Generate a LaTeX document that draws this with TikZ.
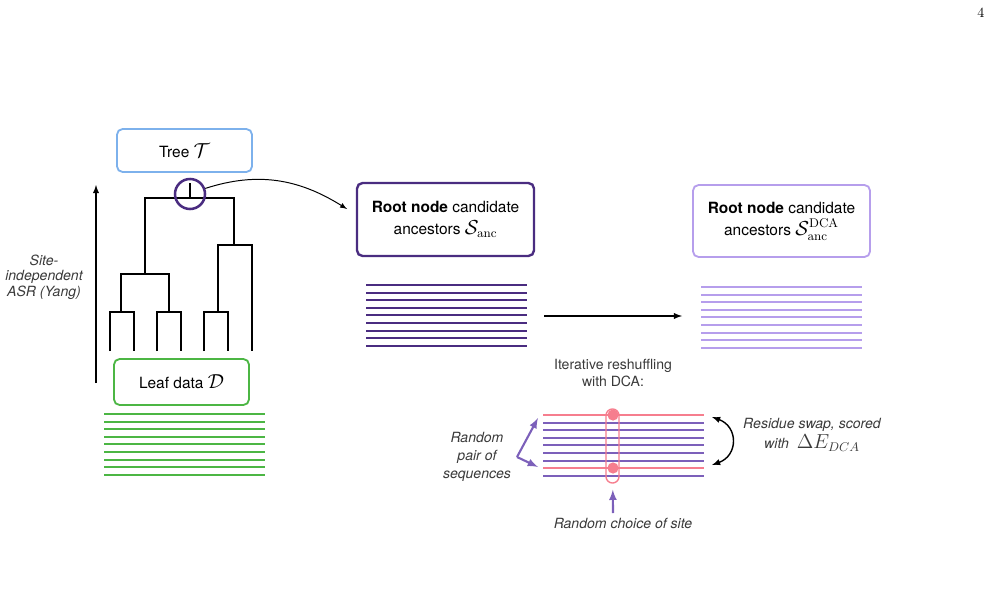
\documentclass[tikz,border=0pt]{standalone}
\usepackage{amsmath}
\usepackage[no-math]{fontspec}
\setmainfont{TeX Gyre Heros}
\usetikzlibrary{arrows,positioning,calc}
\definecolor{treeblue}{RGB}{125,177,236}
\definecolor{leafgreen}{RGB}{76,182,68}
\definecolor{darkpurple}{RGB}{74,44,128}
\definecolor{lightpurple}{RGB}{182,158,236}
\definecolor{midpurple}{RGB}{124,96,186}
\definecolor{swappink}{RGB}{246,126,142}
\definecolor{txtgray}{RGB}{58,58,58}
\newcommand{\mathbig}[1]{{\fontsize{13.5}{15.5}\selectfont$#1$}}

\begin{document}
\begin{tikzpicture}[x=0.025cm,y=0.025cm,>=latex,
  box/.style={draw,rounded corners=4pt,line width=1.3pt,align=center,inner sep=0,
    font=\fontsize{11}{15.5}\selectfont},
  seq/.style={line width=1.5pt},
  branch/.style={line width=1.4pt},
  note/.style={text=txtgray,align=center,font=\fontsize{10}{13}\selectfont\itshape},
  dot/.style={circle,fill=swappink,inner sep=0,minimum size=0.28cm}]
  \useasboundingbox (0,0) rectangle (993,-611);
  \node[font=\fontfamily{lmr}\selectfont] (pagenum) at (981,-13) {4};

  % tree
  \node[box,draw=treeblue,minimum width=3.375cm,minimum height=1.075cm] (tree) at (184.5,-150.5) {Tree \mathbig{\mathcal{T}}};
  \coordinate (top) at (190,-183);
  \coordinate (root) at (190,-198);
  \coordinate (a) at (145,-274);
  \coordinate (b) at (234,-245);
  \coordinate (a1) at (121,-312);
  \coordinate (a2) at (169,-312);
  \coordinate (b1) at (218,-312);
  \foreach \x [count=\i] in {110,134,157,181,204,228,252}
    \coordinate (leaf\i) at (\x,-351);
  \draw[branch] (top) -- (root);
  \draw[branch] (a) |- (root) -| (b);
  \draw[branch] (a1) |- (a) -| (a2);
  \draw[branch] (b1) |- (b) -| (leaf7);
  \draw[branch] (leaf1) |- (a1) -| (leaf2);
  \draw[branch] (leaf3) |- (a2) -| (leaf4);
  \draw[branch] (leaf5) |- (b1) -| (leaf6);
  \node[circle,draw=darkpurple,line width=1.8pt,minimum size=0.75cm,inner sep=0] (rootring) at (190,-194) {};

  \coordinate (asrbot) at (96,-383);
  \coordinate (asrtop) at (96,-185);
  \draw[->,line width=1pt] (asrbot) -- (asrtop);
  \node[note,font=\fontsize{10}{11}\selectfont\itshape] (asr) at (44,-277) {Site-\\independent\\ASR (Yang)};

  \node[box,draw=leafgreen,minimum width=3.375cm,minimum height=1.15cm] (leafdata) at (181.5,-382) {Leaf data \mathbig{\mathcal{D}}};
  \foreach \i in {0,...,8}
    \draw[seq,leafgreen] (104,-414-7.6*\i) -- (265,-414-7.6*\i);

  % ancestors
  \node[box,draw=darkpurple,line width=1.7pt,minimum width=4.425cm,minimum height=1.825cm] (sanc) at (445.5,-219.5)
    {\textbf{Root node} candidate\\ancestors \mathbig{\mathcal{S}_{\mathrm{anc}}}};
  \coordinate (sancin) at (347,-209);
  \draw[->,line width=0.7pt] (rootring.20) to[out=18,in=148] (sancin);
  \foreach \i in {0,...,8}
    \draw[seq,darkpurple] (366,-285-7.6*\i) -- (527,-285-7.6*\i);

  \coordinate (shufstart) at (544,-316);
  \coordinate (shufend) at (682,-316);
  \draw[->,line width=1pt] (shufstart) -- (shufend);

  \node[box,draw=lightpurple,minimum width=4.425cm,minimum height=1.8cm] (sdca) at (781.5,-221)
    {\textbf{Root node} candidate\\ancestors \mathbig{\mathcal{S}_{\mathrm{anc}}^{\mathrm{DCA}}}};
  \foreach \i in {0,...,8}
    \draw[seq,lightpurple] (701,-287-7.6*\i) -- (862,-287-7.6*\i);

  % reshuffling
  \node[text=txtgray,align=center,font=\fontsize{10}{12}\selectfont] (iter) at (613,-373) {Iterative reshuffling\\with DCA:};
  \foreach \i/\c in {0/swappink,1/midpurple,2/midpurple,3/midpurple,4/midpurple,5/midpurple,6/midpurple,7/swappink,8/midpurple}
    \draw[seq,\c] (543,-415-7.6*\i) -- (704,-415-7.6*\i);
  \node[draw=swappink,line width=1pt,rounded corners=0.16cm,minimum width=0.325cm,minimum height=1.85cm,inner sep=0] (site) at (612.5,-446) {};
  \node[dot] (dtop) at (613,-415) {};
  \node[dot] (dbot) at (613,-468) {};

  \coordinate (sitearrow) at (613,-513);
  \draw[->,midpurple,line width=1.5pt,shorten >=0.15cm] (sitearrow) -- (site);
  \node[note] (sitelabel) at (623,-523) {Random choice of site};

  \coordinate (pairfork) at (517,-457);
  \coordinate (pairtop) at (538,-418);
  \coordinate (pairbot) at (538,-467);
  \draw[->,midpurple,line width=1.5pt] (pairfork) -- (pairtop);
  \draw[->,midpurple,line width=1.5pt] (pairfork) -- (pairbot);
  \node[note,font=\fontsize{10}{13}\selectfont\itshape] (pair) at (477,-457) {Random\\pair of\\sequences};

  \coordinate (swaptop) at (712,-417);
  \coordinate (swapbot) at (712,-465);
  \draw[<->,line width=1pt] (swaptop) to[out=-20,in=20,looseness=1.5] (swapbot);
  \node[note,font=\fontsize{10}{14}\selectfont\itshape] (swap) at (812,-435) {Residue swap, scored\\with\ \ \mathbig{\Delta E_{DCA}}};
\end{tikzpicture}
\end{document}
